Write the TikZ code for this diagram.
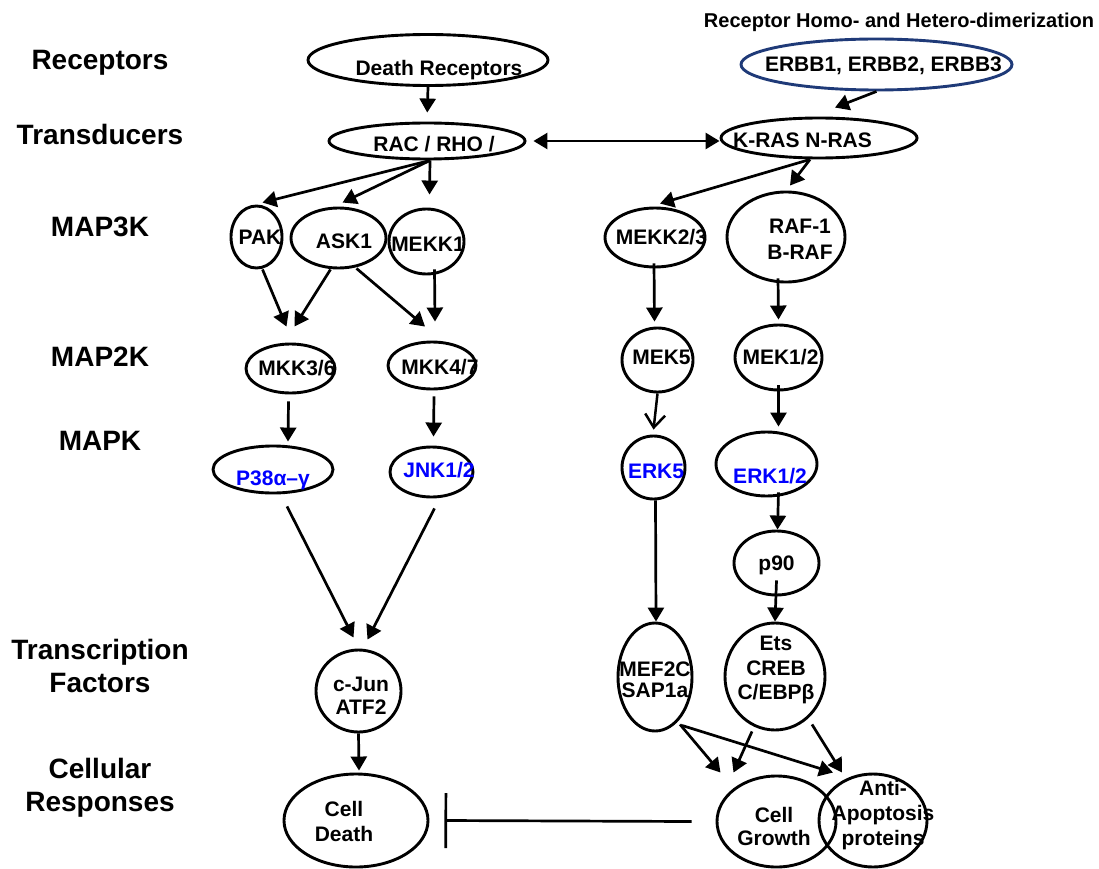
\documentclass[tikz,border=0pt]{standalone}
\usepackage{fontspec}
\setmainfont{Liberation Sans}
\usepackage{tikz}
\usetikzlibrary{shapes.geometric,arrows.meta}
\definecolor{MapBlue}{HTML}{0000FF}
\definecolor{MapNavy}{HTML}{1F3A78}
\newcommand\mapfont{\bfseries\fontsize{21}{24}\selectfont}
\newcommand\rowfont{\bfseries\fontsize{28}{33}\selectfont}
\newcommand\topfont{\bfseries\fontsize{20}{24}\selectfont}
\tikzset{
  oval/.style={ellipse,draw,line width=2.9pt,inner sep=0pt},
  txt/.style={font=\mapfont,inner sep=0pt,anchor=base},
  mtxt/.style={font=\mapfont,inner sep=0pt,anchor=center,align=center},
  rowlbl/.style={font=\rowfont,inner sep=0pt,anchor=base,align=center},
  link/.style={-{Triangle[length=14pt,width=16pt]},line width=2.7pt},
  bilink/.style={{Triangle[length=14pt,width=16pt]}-{Triangle[length=14pt,width=16pt]},line width=2.7pt},
  openlink/.style={-{Straight Barb[length=13pt,width=20pt]},line width=2.5pt},
  inhibit/.style={-{Bar[width=55pt]},line width=2.7pt}
}

\begin{document}
\begin{tikzpicture}[x=1pt,y=1pt]
\path[use as bounding box] (0,0) rectangle (1099,-869);
\node[rowlbl] (r-rec) at (100,-70) {Receptors};
\node[rowlbl] (r-tra) at (100,-145) {Transducers};
\node[rowlbl] (r-m3k) at (100,-236) {MAP3K};
\node[rowlbl] (r-m2k) at (100,-366) {MAP2K};
\node[rowlbl] (r-mk) at (100,-450) {MAPK};
\node[rowlbl,anchor=center] (r-tf) at (100,-665.5) {Transcription\\Factors};
\node[rowlbl,anchor=center] (r-cr) at (100,-788) {Cellular\\Responses};
\node[font=\topfont,inner sep=0pt,anchor=base] (dimer) at (899,-28) {Receptor Homo- and Hetero-dimerization};

\node[oval,minimum width=240pt,minimum height=51pt] (dr) at (428,-60) {};
\node[txt] (dr-t) at (439,-76) {Death Receptors};
\node[oval,draw=MapNavy,minimum width=271pt,minimum height=51pt] (erbb) at (876.5,-64.5) {};
\node[txt] (erbb-t) at (883.5,-72) {ERBB1, ERBB2, ERBB3};
\node[oval,minimum width=196pt,minimum height=36pt] (rac) at (427,-141) {};
\node[txt] (rac-t) at (434,-152) {RAC / RHO /};
\node[oval,minimum width=196pt,minimum height=40pt] (kras) at (819,-138) {};
\node[txt] (kras-t) at (802.5,-148) {K-RAS N-RAS};

\node[oval,minimum width=51pt,minimum height=62pt] (pak) at (256.5,-237) {};
\node[txt] (pak-t) at (260,-244) {PAK};
\node[oval,minimum width=95pt,minimum height=60pt] (ask1) at (338.5,-238) {};
\node[txt] (ask1-t) at (344,-248) {ASK1};
\node[oval,minimum width=75pt,minimum height=65pt] (mekk1) at (426.5,-241.5) {};
\node[txt] (mekk1-t) at (428,-251) {MEKK1};
\node[oval,minimum width=100pt,minimum height=59pt] (mekk23) at (655,-237.5) {};
\node[txt] (mekk23-t) at (661.5,-244) {MEKK2/3};
\node[oval,minimum width=118pt,minimum height=90pt] (raf) at (786,-237) {};
\node[mtxt] (raf-t) at (800,-239) {RAF-1\\[2pt]B-RAF};

\node[oval,minimum width=89pt,minimum height=49pt] (mkk36) at (290.5,-368.5) {};
\node[txt] (mkk36-t) at (297,-375) {MKK3/6};
\node[oval,minimum width=88pt,minimum height=47pt] (mkk47) at (432,-365.5) {};
\node[txt] (mkk47-t) at (440,-374) {MKK4/7};
\node[oval,minimum width=71pt,minimum height=64pt] (mek5) at (657.5,-360) {};
\node[txt] (mek5-t) at (661.5,-364) {MEK5};
\node[oval,minimum width=87pt,minimum height=65pt] (mek12) at (778.5,-357.5) {};
\node[txt] (mek12-t) at (780.5,-364) {MEK1/2};

\node[oval,minimum width=120pt,minimum height=47pt] (p38) at (273,-469.5) {};
\node[txt,text=MapBlue] (p38-t) at (273,-485) {P38α–γ};
\node[oval,minimum width=83pt,minimum height=50pt] (jnk) at (431.5,-472) {};
\node[txt,text=MapBlue] (jnk-t) at (439,-477) {JNK1/2};
\node[oval,minimum width=63pt,minimum height=63pt] (erk5) at (653.5,-467.5) {};
\node[txt,text=MapBlue] (erk5-t) at (656,-478) {ERK5};
\node[oval,minimum width=101pt,minimum height=64pt] (erk12) at (766.5,-464) {};
\node[txt,text=MapBlue] (erk12-t) at (770,-483) {ERK1/2};
\node[oval,minimum width=85pt,minimum height=64pt] (p90) at (776.5,-563) {};
\node[txt] (p90-t) at (776.5,-570) {p90};

\node[oval,minimum width=85pt,minimum height=82pt] (cjun) at (358.5,-691) {};
\node[mtxt] (cjun-t) at (361,-696) {c-Jun\\[-1pt]ATF2};
\node[oval,minimum width=74pt,minimum height=108pt] (mef2c) at (655,-677) {};
\node[mtxt] (mef2c-t) at (655,-679.5) {MEF2C\\[-3pt]SAP1a};
\node[oval,minimum width=100pt,minimum height=107pt] (ets) at (775,-676.5) {};
\node[mtxt] (ets-t) at (776,-670) {Ets\\[0.5pt]CREB\\[0.5pt]C/EBPβ};

\node[oval,minimum width=144pt,minimum height=93pt] (cd) at (356,-820.5) {};
\node[mtxt] (cd-t) at (344,-821.5) {Cell\\[1pt]Death};
\node[oval,minimum width=119pt,minimum height=91pt] (cg) at (776.5,-821.5) {};
\node[mtxt] (cg-t) at (774,-826) {Cell\\[-1pt]Growth};
\node[oval,minimum width=108pt,minimum height=93pt] (anti) at (873,-820.5) {};
\node[mtxt] (anti-t) at (883,-815.5) {Anti-\\[1pt]Apoptosis\\[1pt]proteins};

\draw[link,shorten >=9pt] (dr.south) -- (rac.north);
\draw[bilink,shorten <=7pt] (rac.east) -- (rac.east -| kras.west);
\draw[link] (erbb.south) -- ([xshift=16pt,yshift=9pt]kras.north);
\draw[link] ([xshift=3pt]rac.south) -- ([xshift=6pt,yshift=2pt]pak.north);
\draw[link] ([xshift=3pt]rac.south) -- ([xshift=4pt,yshift=4pt]ask1.north);
\draw[link] ([xshift=3pt]rac.south) -- ([xshift=3pt,yshift=13pt]mekk1.north);
\draw[link] ([xshift=-9pt]kras.south) -- ([xshift=5pt,yshift=3pt]mekk23.north);
\draw[link] ([xshift=-9pt]kras.south) -- ([xshift=4pt,yshift=5pt]raf.north);
\draw[link] ([xshift=6pt]pak.south) -- ([xshift=-4pt,yshift=16pt]mkk36.north);
\draw[link] ([xshift=-8pt]ask1.south) -- ([xshift=4pt,yshift=16pt]mkk36.north);
\draw[link] ([xshift=18pt,yshift=1pt]ask1.south) -- ([xshift=-7pt,yshift=14pt]mkk47.north);
\draw[link] ([xshift=8pt,yshift=6pt]mekk1.south) -- ([xshift=3pt,yshift=19pt]mkk47.north);
\draw[link] ([xshift=-2pt,yshift=-7pt]mkk36.south) -- ([xshift=15pt,yshift=3pt]p38.north);
\draw[link] ([xshift=2pt,yshift=-6pt]mkk47.south) -- ([xshift=2pt,yshift=9pt]jnk.north);
\draw[link] ([xshift=14pt,yshift=-12pt]p38.south) -- ([xshift=-5pt,yshift=11pt]cjun.north);
\draw[link] ([xshift=3pt,yshift=-10pt]jnk.south) -- ([xshift=9pt,yshift=9pt]cjun.north);
\draw[link] (cjun.south) -- ([xshift=3pt,yshift=2pt]cd.north);
\draw[link] ([xshift=-1pt,yshift=5pt]mekk23.south) -- ([xshift=-3pt,yshift=5pt]mek5.north);
\draw[link] ([xshift=-8pt,yshift=5pt]raf.south) -- ([yshift=4pt]mek12.north);
\draw[openlink] (mek5.south) -- ([yshift=5pt]erk5.north);
\draw[link] ([yshift=6pt]mek12.south) -- ([xshift=12pt,yshift=4pt]erk12.north);
\draw[link] ([xshift=2pt]erk5.south) -- ([xshift=1pt]mef2c.north);
\draw[link] ([xshift=12pt,yshift=5pt]erk12.south) -- ([xshift=1pt]p90.north);
\draw[link] ([yshift=16pt]p90.south) -- (ets.north);
\draw[link] ([xshift=25pt,yshift=8pt]mef2c.south) -- ([xshift=-56pt,yshift=2pt]cg.north);
\draw[link] ([xshift=27pt,yshift=7pt]mef2c.south) -- ([xshift=-40pt]anti.north);
\draw[link] ([xshift=-23pt]ets.south) -- ([xshift=-43pt,yshift=2pt]cg.north);
\draw[link] ([xshift=37pt,yshift=7pt]ets.south) -- ([xshift=-31pt]anti.north);
\draw[inhibit] ([xshift=-24pt]cg.west) -- ([xshift=15pt]cd.east);
\end{tikzpicture}
\end{document}
